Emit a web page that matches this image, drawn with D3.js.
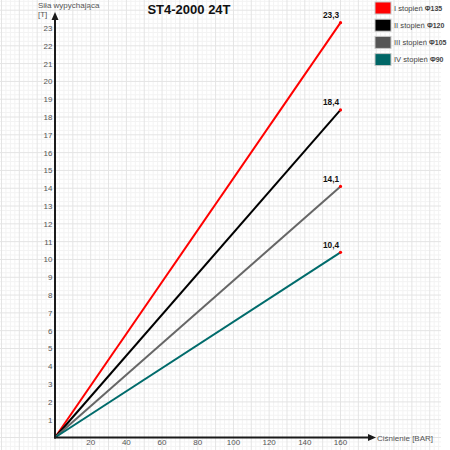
<!DOCTYPE html>
<html>
<head>
<meta charset="utf-8">
<script src="https://cdn.jsdelivr.net/npm/d3@7"></script>
<style>
  html, body { margin: 0; padding: 0; background: #fff; }
  svg { display: block; font-family: Arial, "Liberation Sans", sans-serif; }
</style>
</head>
<body>
<svg id="chart" width="450" height="450"></svg>
<script>
// dane wykresu
const cisnienie = [0, 160];
const stopnie = ['I stopień', 'II stopień', 'III stopień', 'IV stopień'];
const srednice = ['Φ135', 'Φ120', 'Φ105', 'Φ90'];
const sila = [
  [0, 23.3],
  [0, 18.4],
  [0, 14.1],
  [0, 10.4]
];
const kolory = ['#ff0000', '#000000', '#666666', '#006b6b'];
const kolorySwatch = ['#ff0000', '#000000', '#555555', '#006666'];
const xTicks = [20, 40, 60, 80, 100, 120, 140, 160];
const yTicks = d3.range(1, 24);

const svg = d3.select('#chart');
const width = 450, height = 450;

const x = d3.scaleLinear().domain([0, 160]).range([55, 340.5]);
const y = d3.scaleLinear().domain([0, 23]).range([437.5, 28]);

// siatka w tle
const grid = svg.append('g').attr('class', 'grid');
const minorX = [], majorX = [], minorY = [], majorY = [];
for (let v = -30; v <= 225; v += 2.5) {
  const px = x(v);
  if (px < 0 || px > 441) continue;
  (Math.abs(v % 10) < 1e-6 ? majorX : minorX).push(px);
}
for (let v = -1; v <= 25; v += 0.25) {
  const py = y(v);
  if (py < 0 || py > 450) continue;
  (Math.abs(v % 1) < 1e-6 ? majorY : minorY).push(py);
}
grid.selectAll('line.minx').data(minorX).enter().append('line')
  .attr('x1', d => d).attr('x2', d => d).attr('y1', 0).attr('y2', 450)
  .attr('stroke', '#f3f3f3').attr('stroke-width', 1);
grid.selectAll('line.miny').data(minorY).enter().append('line')
  .attr('y1', d => d).attr('y2', d => d).attr('x1', 0).attr('x2', 441)
  .attr('stroke', '#f3f3f3').attr('stroke-width', 1);
grid.selectAll('line.majx').data(majorX).enter().append('line')
  .attr('x1', d => d).attr('x2', d => d).attr('y1', 0).attr('y2', 450)
  .attr('stroke', '#e4e4e4').attr('stroke-width', 1);
grid.selectAll('line.majy').data(majorY).enter().append('line')
  .attr('y1', d => d).attr('y2', d => d).attr('x1', 0).attr('x2', 441)
  .attr('stroke', '#e4e4e4').attr('stroke-width', 1);

// tytuł
svg.append('text')
  .attr('x', 189).attr('y', 13.5)
  .attr('text-anchor', 'middle')
  .attr('font-size', 13).attr('font-weight', 700)
  .attr('fill', '#111')
  .text('ST4-2000 24T');

// linie serii
const line = d3.line().x((d, i) => x(cisnienie[i])).y(d => y(d));
svg.selectAll('path.seria')
  .data(sila)
  .enter()
  .append('path')
  .attr('class', 'seria')
  .attr('fill', 'none')
  .attr('stroke', (d, i) => kolory[i])
  .attr('stroke-width', 2)
  .attr('d', line);

// punkty końcowe
svg.selectAll('circle.koniec')
  .data(sila)
  .enter()
  .append('circle')
  .attr('cx', x(cisnienie[1]))
  .attr('cy', d => y(d[1]))
  .attr('r', 1.6)
  .attr('fill', '#ff0000');

// etykiety wartości
svg.selectAll('text.wartosc')
  .data(sila)
  .enter()
  .append('text')
  .attr('x', x(cisnienie[1]) - 9.5)
  .attr('y', d => y(d[1]) - 4.5)
  .attr('text-anchor', 'middle')
  .attr('font-size', 8.3).attr('font-weight', 700)
  .attr('fill', '#111')
  .text(d => d3.format('.1f')(d[1]).replace('.', ','));

// osie
const axisColor = '#1a1a1a';
svg.append('line')
  .attr('x1', x(0)).attr('x2', x(0))
  .attr('y1', y(0) + 1).attr('y2', 18)
  .attr('stroke', axisColor).attr('stroke-width', 2);
svg.append('path')
  .attr('d', `M${x(0)},12 L${x(0) - 3.5},20 L${x(0) + 3.5},20 Z`)
  .attr('fill', axisColor);
svg.append('line')
  .attr('x1', x(0) - 1).attr('x2', 370)
  .attr('y1', y(0)).attr('y2', y(0))
  .attr('stroke', axisColor).attr('stroke-width', 2);
svg.append('path')
  .attr('d', `M376,${y(0)} L368,${y(0) - 3.5} L368,${y(0) + 3.5} Z`)
  .attr('fill', axisColor);

// etykiety osi Y
svg.selectAll('text.ytick')
  .data(yTicks)
  .enter()
  .append('text')
  .attr('x', x(0) - 2.5)
  .attr('y', d => y(d) + 3)
  .attr('text-anchor', 'end')
  .attr('font-size', 8)
  .attr('fill', '#555')
  .text(d => d);

// etykiety osi X
svg.selectAll('text.xtick')
  .data(xTicks)
  .enter()
  .append('text')
  .attr('x', d => x(d))
  .attr('y', y(0) + 7.5)
  .attr('text-anchor', 'middle')
  .attr('font-size', 8)
  .attr('fill', '#555')
  .text(d => d);

// opisy osi
svg.append('text')
  .attr('x', 38).attr('y', 8)
  .attr('font-size', 8).attr('fill', '#555')
  .text('Siła wypychająca');
svg.append('text')
  .attr('x', 38).attr('y', 17)
  .attr('font-size', 8).attr('fill', '#555')
  .text('[T]');
svg.append('text')
  .attr('x', 377).attr('y', y(0) + 3.5)
  .attr('font-size', 8).attr('fill', '#555')
  .text('Ciśnienie [BAR]');

// legenda
const legenda = svg.append('g').attr('transform', 'translate(375,2)');
const wpis = legenda.selectAll('g.wpis')
  .data(stopnie)
  .enter()
  .append('g')
  .attr('transform', (d, i) => `translate(0,${i * 17.2})`);
wpis.append('rect')
  .attr('width', 16).attr('height', 12)
  .attr('fill', (d, i) => kolorySwatch[i])
  .attr('stroke', '#c8c8c8').attr('stroke-width', 1);
const opis = wpis.append('text')
  .attr('x', 19).attr('y', 8.8)
  .attr('font-size', 7.6).attr('fill', '#444');
opis.append('tspan').text(d => d + ' ');
opis.append('tspan').attr('font-size', 7).attr('font-weight', 700)
  .text((d, i) => srednice[i]);
</script>
</body>
</html>
